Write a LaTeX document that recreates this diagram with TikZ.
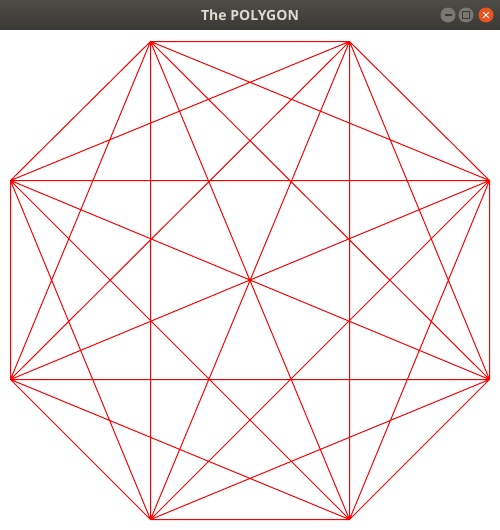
\documentclass[tikz,border=0pt]{standalone}
\usepackage{fontspec}
\setmainfont{Open Sans}
\definecolor{barTop}{HTML}{4E4C47}
\definecolor{barBot}{HTML}{3A3935}
\definecolor{titleTxt}{HTML}{DFDBD2}
\definecolor{btnGrey}{HTML}{7A7873}
\definecolor{btnOrange}{HTML}{E95420}
\definecolor{edgeRed}{RGB}{255,0,0}
\tikzset{
  edge/.style={draw=edgeRed, line width=1pt},
  winbtn/.style={circle, minimum size=15pt, inner sep=0pt},
  btnmark/.style={draw=#1, line width=1.2pt}
}
\begin{document}
\begin{tikzpicture}[x=1pt,y=-1pt]
\useasboundingbox (0,0) rectangle (500,530);
\fill[white] (0,0) rectangle (500,530);
% octagon vertices
\coordinate (v1) at (150.5,41.5);
\coordinate (v2) at (349.5,41.5);
\coordinate (v3) at (489.5,180.5);
\coordinate (v4) at (489.5,379.5);
\coordinate (v5) at (349.5,519.5);
\coordinate (v6) at (150.5,519.5);
\coordinate (v7) at (10.5,379.5);
\coordinate (v8) at (10.5,180.5);
\path[edge] (v2) -- (v5) (v4) -- (v7)
  (v1) -- (v2) (v1) -- (v3) (v1) -- (v4) (v1) -- (v5)
  (v1) -- (v6) (v1) -- (v7) (v1) -- (v8)
  (v2) -- (v3) (v2) -- (v4) (v2) -- (v6)
  (v2) -- (v7) (v2) -- (v8)
  (v3) -- (v4) (v3) -- (v5) (v3) -- (v6) (v3) -- (v7)
  (v3) -- (v8)
  (v4) -- (v5) (v4) -- (v6) (v4) -- (v8)
  (v5) -- (v6) (v5) -- (v7) (v5) -- (v8)
  (v6) -- (v7) (v6) -- (v8)
  (v7) -- (v8);
% title bar
\shade[top color=barTop, bottom color=barBot] (0,0) rectangle (500,29.5);
\node[font=\bfseries\fontsize{14}{16}\selectfont, text=titleTxt] (title) at (250,15) {The POLYGON};
\node[winbtn, fill=btnGrey] (bmin) at (448,15) {};
\node[winbtn, fill=btnGrey] (bmax) at (466,15) {};
\node[winbtn, fill=btnOrange] (bclose) at (486,15) {};
\draw[btnmark=barBot] ([xshift=-3.5pt]bmin.center) -- ([xshift=3.5pt]bmin.center);
\draw[btnmark=barBot, line width=0.9pt] ([shift={(-3.5pt,-3.5pt)}]bmax.center) rectangle ([shift={(3.5pt,3.5pt)}]bmax.center);
\draw[btnmark=white, line width=1pt] ([shift={(-2.8pt,-2.8pt)}]bclose.center) -- ([shift={(2.8pt,2.8pt)}]bclose.center);
\draw[btnmark=white, line width=1pt] ([shift={(-2.8pt,2.8pt)}]bclose.center) -- ([shift={(2.8pt,-2.8pt)}]bclose.center);
\end{tikzpicture}
\end{document}
